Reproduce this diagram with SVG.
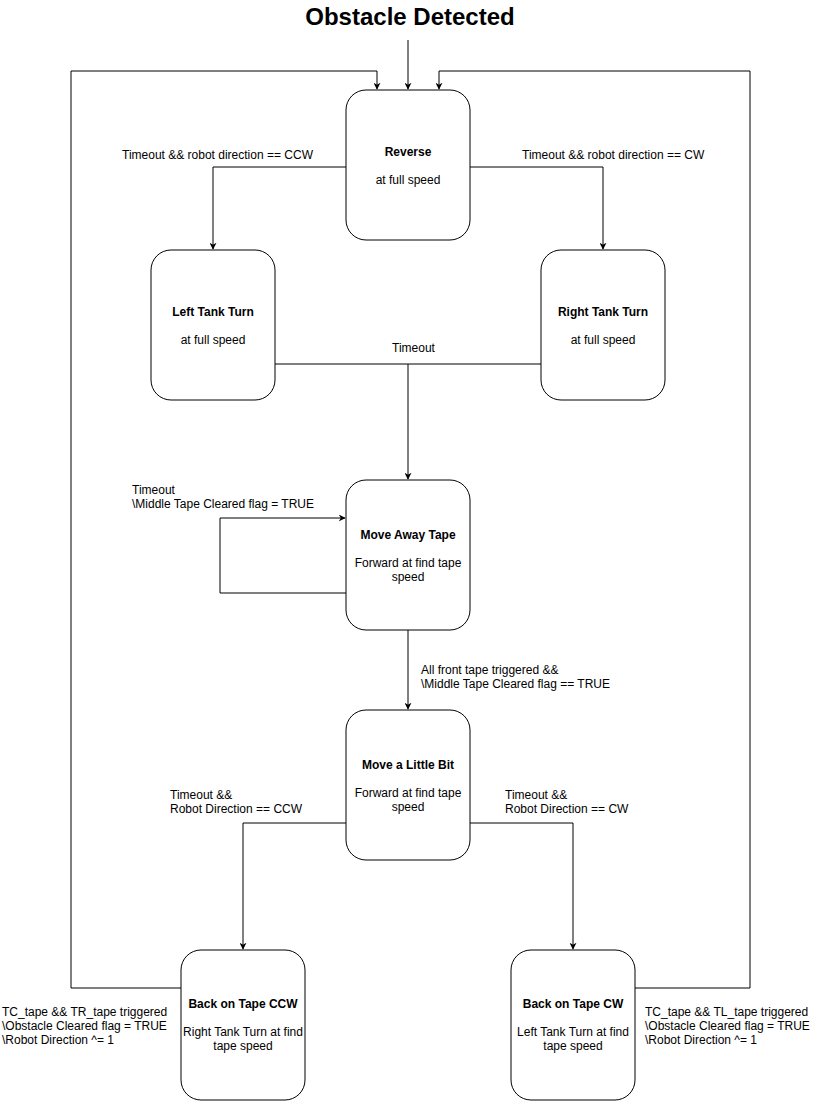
<svg xmlns="http://www.w3.org/2000/svg" width="824" height="1101" viewBox="0 0 824 1101">
<defs>
<marker id="arr" viewBox="0 0 10 10" refX="9" refY="5" markerWidth="7" markerHeight="7" markerUnits="userSpaceOnUse" orient="auto">
<path d="M0,0 L10,5 L0,10 L3,5 Z" fill="#000"/>
</marker>
<style>
.node rect{fill:#fff;stroke:#000;stroke-width:1}
text{font-family:"Liberation Sans",Arial,sans-serif;font-size:12px;fill:#000}
.t{font-weight:bold;text-anchor:middle}
.s{text-anchor:middle}
.edge{fill:none;stroke:#000;stroke-width:1;marker-end:url(#arr)}
.line{fill:none;stroke:#000;stroke-width:1}
</style>
</defs>
<rect width="824" height="1101" fill="#fff"/>
<text x="410" y="25" text-anchor="middle" style="font-size:24px;font-weight:bold">Obstacle Detected</text>
<g id="connectors">
<path class="edge" d="M408,40 V89"/>
<path class="edge" d="M181,988 H71 V71 H377 V89"/>
<path class="edge" d="M635,988 H750 V71 H439 V89"/>
<path class="edge" d="M346,167 H213 V249"/>
<path class="edge" d="M470,167 H603 V249"/>
<path class="line" d="M275,364 H541"/>
<path class="edge" d="M408,364 V479"/>
<path class="edge" d="M346,593 H220 V518 H345"/>
<path class="edge" d="M408,630 V709"/>
<path class="edge" d="M346,823 H243 V949"/>
<path class="edge" d="M470,823 H573 V949"/>
<text x="122" y="159">Timeout &amp;&amp; robot direction == CCW</text>
<text x="522" y="159">Timeout &amp;&amp; robot direction == CW</text>
<text x="392" y="352">Timeout</text>
<text x="132" y="494">Timeout</text>
<text x="132" y="508">\Middle Tape Cleared flag = TRUE</text>
<text x="421" y="674">All front tape triggered &amp;&amp;</text>
<text x="421" y="688">\Middle Tape Cleared flag == TRUE</text>
<text x="170" y="799">Timeout &amp;&amp;</text>
<text x="170" y="813">Robot Direction == CCW</text>
<text x="505" y="799">Timeout &amp;&amp;</text>
<text x="505" y="813">Robot Direction == CW</text>
<text x="2" y="1016">TC_tape &amp;&amp; TR_tape triggered</text>
<text x="2" y="1030">\Obstacle Cleared flag = TRUE</text>
<text x="2" y="1044">\Robot Direction ^= 1</text>
<text x="645" y="1016">TC_tape &amp;&amp; TL_tape triggered</text>
<text x="645" y="1030">\Obstacle Cleared flag = TRUE</text>
<text x="645" y="1044">\Robot Direction ^= 1</text>
</g>
<g id="reverse" class="node">
<rect x="346" y="90" width="124" height="150" rx="20"/>
<text class="t" x="408" y="156">Reverse</text>
<text class="s" x="408" y="184">at full speed</text>
</g>
<g id="left-tank-turn" class="node">
<rect x="151" y="250" width="124" height="150" rx="20"/>
<text class="t" x="213" y="316">Left Tank Turn</text>
<text class="s" x="213" y="344">at full speed</text>
</g>
<g id="right-tank-turn" class="node">
<rect x="541" y="250" width="124" height="150" rx="20"/>
<text class="t" x="603" y="316">Right Tank Turn</text>
<text class="s" x="603" y="344">at full speed</text>
</g>
<g id="move-away-tape" class="node">
<rect x="346" y="480" width="124" height="150" rx="20"/>
<text class="t" x="408" y="539">Move Away Tape</text>
<text class="s" x="408" y="567">Forward at find tape</text>
<text class="s" x="408" y="581">speed</text>
</g>
<g id="move-little-bit" class="node">
<rect x="346" y="710" width="124" height="150" rx="20"/>
<text class="t" x="408" y="769">Move a Little Bit</text>
<text class="s" x="408" y="797">Forward at find tape</text>
<text class="s" x="408" y="811">speed</text>
</g>
<g id="back-on-tape-ccw" class="node">
<rect x="181" y="950" width="124" height="150" rx="20"/>
<text class="t" x="243" y="1008">Back on Tape CCW</text>
<text class="s" x="243" y="1036">Right Tank Turn at find</text>
<text class="s" x="243" y="1050">tape speed</text>
</g>
<g id="back-on-tape-cw" class="node">
<rect x="511" y="950" width="124" height="150" rx="20"/>
<text class="t" x="573" y="1008">Back on Tape CW</text>
<text class="s" x="573" y="1036">Left Tank Turn at find</text>
<text class="s" x="573" y="1050">tape speed</text>
</g>
</svg>
